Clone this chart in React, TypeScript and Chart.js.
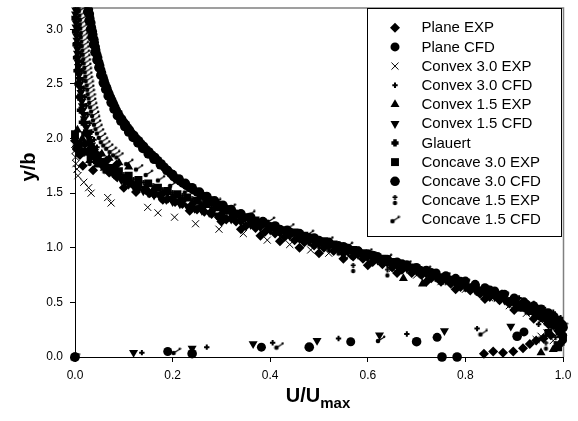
import React, { useEffect, useRef } from 'react';
import { Chart, registerables } from 'chart.js';
import { drawPoint } from 'chart.js/helpers';

Chart.register(...registerables);

// ---------------- data (U/Umax, y/b) ----------------
const xTicks = [0, 0.2, 0.4, 0.6, 0.8, 1.0];
const yTicks = [0, 0.5, 1.0, 1.5, 2.0, 2.5, 3.0];
const seriesLabels = [
  'Plane EXP', 'Plane CFD', 'Convex 3.0 EXP', 'Convex 3.0 CFD', 'Convex 1.5 EXP',
  'Convex 1.5 CFD', 'Glauert', 'Concave 3.0 EXP', 'Concave 3.0 CFD', 'Concave 1.5 EXP', 'Concave 1.5 CFD',
];

const planeExp = [
  [0.0, 1.98], [0.004, 1.9], [0.016, 1.75], [0.037, 1.71], [0.055, 1.76], [0.07, 1.69], [0.085, 1.65],
  [0.1, 1.62], [0.115, 1.59], [0.13, 1.56], [0.145, 1.53], [0.16, 1.5], [0.175, 1.48], [0.19, 1.45],
  [0.205, 1.42], [0.22, 1.4], [0.235, 1.37], [0.25, 1.35], [0.265, 1.33], [0.28, 1.31], [0.295, 1.28],
  [0.31, 1.26], [0.33, 1.24], [0.35, 1.2], [0.37, 1.18], [0.39, 1.15], [0.41, 1.13], [0.43, 1.1],
  [0.45, 1.07], [0.47, 1.05], [0.49, 1.02], [0.51, 1.0], [0.53, 0.97], [0.55, 0.95], [0.57, 0.92],
  [0.59, 0.9], [0.61, 0.87], [0.63, 0.85], [0.65, 0.82], [0.67, 0.8], [0.69, 0.77], [0.71, 0.75],
  [0.73, 0.72], [0.75, 0.69], [0.77, 0.67], [0.79, 0.64], [0.81, 0.61], [0.83, 0.58], [0.85, 0.55],
  [0.87, 0.52], [0.89, 0.49], [0.91, 0.46], [0.93, 0.42], [0.95, 0.38], [0.965, 0.34], [0.98, 0.29],
  [0.99, 0.24], [0.997, 0.19], [0.998, 0.14], [0.99, 0.1], [0.975, 0.2], [0.96, 0.17], [0.945, 0.15],
  [0.932, 0.12], [0.918, 0.08], [0.898, 0.05], [0.877, 0.04], [0.857, 0.05], [0.838, 0.03],
  [0.01, 1.85], [0.02, 1.95], [0.03, 1.9], [0.045, 1.85], [0.065, 1.8], [0.085, 1.76],
  [0.1, 1.55], [0.125, 1.51], [0.153, 1.5], [0.18, 1.44], [0.215, 1.43], [0.235, 1.34], [0.257, 1.37],
  [0.3, 1.24], [0.34, 1.17], [0.38, 1.11], [0.42, 1.06], [0.46, 1.0], [0.5, 0.95], [0.55, 0.9],
  [0.6, 0.84], [0.66, 0.77], [0.72, 0.69], [0.78, 0.62], [0.84, 0.53], [0.9, 0.43], [0.94, 0.35],
  [0.97, 0.3],
];

const planeCfd = [
  [0.026, 3.26], [0.027, 3.22], [0.028, 3.18], [0.03, 3.14], [0.031, 3.1], [0.033, 3.06], [0.034, 3.02],
  [0.036, 2.98], [0.037, 2.95], [0.039, 2.91], [0.04, 2.88], [0.042, 2.84], [0.043, 2.81], [0.045, 2.77],
  [0.047, 2.74], [0.049, 2.7], [0.051, 2.67], [0.053, 2.63], [0.055, 2.6], [0.058, 2.56], [0.06, 2.53],
  [0.062, 2.5], [0.065, 2.47], [0.067, 2.44], [0.07, 2.41], [0.073, 2.38], [0.076, 2.35], [0.079, 2.32],
  [0.082, 2.29], [0.085, 2.26], [0.089, 2.23], [0.092, 2.2], [0.096, 2.18], [0.1, 2.15], [0.104, 2.13],
  [0.108, 2.1], [0.112, 2.08], [0.116, 2.05], [0.121, 2.03], [0.126, 2.0], [0.131, 1.98], [0.136, 1.95],
  [0.141, 1.93], [0.146, 1.9], [0.152, 1.88], [0.158, 1.85], [0.164, 1.83], [0.17, 1.8], [0.177, 1.77],
  [0.183, 1.74], [0.19, 1.71], [0.196, 1.68], [0.202, 1.65], [0.208, 1.63], [0.215, 1.61], [0.221, 1.59],
  [0.228, 1.57], [0.235, 1.55], [0.242, 1.53], [0.25, 1.51], [0.257, 1.49], [0.265, 1.47], [0.272, 1.45],
  [0.28, 1.43], [0.288, 1.41], [0.296, 1.39], [0.305, 1.37], [0.313, 1.35], [0.322, 1.33], [0.331, 1.31],
  [0.34, 1.29], [0.36, 1.255], [0.38, 1.225], [0.4, 1.195], [0.42, 1.17], [0.44, 1.145], [0.46, 1.12],
  [0.48, 1.095], [0.5, 1.07], [0.52, 1.045], [0.54, 1.02], [0.56, 0.995], [0.58, 0.97], [0.6, 0.945],
  [0.62, 0.92], [0.64, 0.895], [0.66, 0.87], [0.68, 0.845], [0.7, 0.82], [0.72, 0.795], [0.74, 0.77],
  [0.76, 0.745], [0.78, 0.72], [0.8, 0.695], [0.82, 0.665], [0.84, 0.635], [0.86, 0.605], [0.88, 0.575],
  [0.9, 0.54], [0.92, 0.505], [0.94, 0.47], [0.955, 0.44], [0.97, 0.405], [0.982, 0.37], [0.992, 0.335],
  [0.998, 0.3], [1.0, 0.27], [0.92, 0.23], [0.742, 0.18], [0.565, 0.14], [0.382, 0.09], [0.19, 0.05],
  [0.0, 0.0],
];

const convex30Exp = [
  [0.0, 1.95], [0.0, 1.89], [0.001, 1.83], [0.002, 1.77], [0.004, 1.72], [0.006, 1.66], [0.018, 1.6],
  [0.028, 1.55], [0.033, 1.5], [0.067, 1.46], [0.074, 1.41], [0.149, 1.37], [0.17, 1.32], [0.204, 1.28],
  [0.247, 1.22], [0.295, 1.17], [0.345, 1.13], [0.394, 1.07], [0.44, 1.03], [0.483, 0.98], [0.52, 0.95],
  [0.56, 0.92], [0.6, 0.87], [0.65, 0.81], [0.7, 0.75], [0.75, 0.69], [0.8, 0.62], [0.85, 0.54],
  [0.89, 0.47], [0.925, 0.4], [0.955, 0.33], [0.975, 0.28], [0.99, 0.22], [0.967, 0.22], [0.955, 0.19],
  [0.945, 0.16], [0.98, 0.15],
];

const convex30Cfd = [
  [0.005, 3.26], [0.006, 3.18], [0.007, 3.1], [0.008, 3.02], [0.009, 2.94], [0.01, 2.86], [0.011, 2.78],
  [0.013, 2.7], [0.014, 2.62], [0.016, 2.54], [0.018, 2.46], [0.02, 2.38], [0.023, 2.3], [0.026, 2.22],
  [0.03, 2.14], [0.034, 2.06], [0.039, 1.99], [0.045, 1.92], [0.052, 1.86], [0.06, 1.8], [0.07, 1.74],
  [0.082, 1.69], [0.095, 1.64], [0.11, 1.6], [0.125, 1.56], [0.145, 1.52], [0.165, 1.48], [0.19, 1.44],
  [0.215, 1.4], [0.245, 1.36], [0.275, 1.32], [0.31, 1.28], [0.345, 1.24], [0.38, 1.2], [0.42, 1.15],
  [0.46, 1.1], [0.5, 1.05], [0.54, 1.0], [0.58, 0.95], [0.62, 0.9], [0.66, 0.85], [0.7, 0.8],
  [0.74, 0.75], [0.78, 0.69], [0.82, 0.64], [0.85, 0.6], [0.875, 0.59], [0.91, 0.54], [0.94, 0.49],
  [0.96, 0.45], [0.98, 0.41], [0.995, 0.36], [1.0, 0.31], [0.95, 0.3], [0.824, 0.26], [0.68, 0.21],
  [0.54, 0.17], [0.405, 0.13], [0.27, 0.09], [0.137, 0.04], [0.0, 0.0],
];

const convex15Exp = [
  [0.0, 2.02], [0.003, 1.93], [0.012, 1.86], [0.03, 1.8], [0.045, 1.76], [0.06, 1.73], [0.075, 1.7],
  [0.09, 1.66], [0.11, 1.62], [0.125, 1.59], [0.145, 1.56], [0.16, 1.53], [0.18, 1.5], [0.2, 1.47],
  [0.22, 1.44], [0.24, 1.41], [0.26, 1.38], [0.28, 1.35], [0.3, 1.32], [0.32, 1.29], [0.34, 1.26],
  [0.36, 1.23], [0.38, 1.2], [0.4, 1.18], [0.42, 1.15], [0.44, 1.12], [0.46, 1.1], [0.48, 1.07],
  [0.5, 1.04], [0.52, 1.02], [0.54, 0.99], [0.56, 0.97], [0.58, 0.94], [0.6, 0.92], [0.62, 0.89],
  [0.64, 0.86], [0.66, 0.84], [0.68, 0.82], [0.7, 0.79], [0.72, 0.77], [0.74, 0.74], [0.76, 0.71],
  [0.78, 0.68], [0.8, 0.66], [0.82, 0.63], [0.84, 0.6], [0.86, 0.56], [0.88, 0.53], [0.9, 0.5],
  [0.92, 0.46], [0.94, 0.41], [0.955, 0.38], [0.97, 0.34], [0.985, 0.28], [0.995, 0.25], [1.0, 0.22],
  [0.673, 0.72], [0.712, 0.67], [0.995, 0.13], [0.98, 0.07], [0.955, 0.04],
  [0.005, 2.08], [0.015, 2.0], [0.025, 1.95], [0.04, 1.9], [0.055, 1.86], [0.07, 1.82], [0.09, 1.78],
  [0.11, 1.74],
];

const convex15Cfd = [
  [0.0, 3.26], [0.0, 3.22], [0.001, 3.18], [0.001, 3.14], [0.001, 3.1], [0.002, 3.06], [0.002, 3.02],
  [0.003, 2.98], [0.003, 2.94], [0.004, 2.9], [0.004, 2.86], [0.005, 2.82], [0.005, 2.78], [0.006, 2.74],
  [0.006, 2.7], [0.007, 2.66], [0.008, 2.62], [0.008, 2.58], [0.009, 2.54], [0.01, 2.5], [0.011, 2.46],
  [0.012, 2.42], [0.013, 2.38], [0.014, 2.34], [0.015, 2.3], [0.016, 2.26], [0.018, 2.22], [0.019, 2.18],
  [0.021, 2.14], [0.023, 2.1], [0.025, 2.06], [0.027, 2.03], [0.029, 2.0], [0.032, 1.97], [0.034, 1.94],
  [0.037, 1.91], [0.04, 1.88], [0.044, 1.85], [0.048, 1.82], [0.052, 1.795], [0.057, 1.77], [0.062, 1.745],
  [0.068, 1.72], [0.074, 1.695], [0.08, 1.67], [0.087, 1.645], [0.095, 1.62], [0.103, 1.6], [0.11, 1.58],
  [0.12, 1.56], [0.13, 1.54], [0.14, 1.52], [0.15, 1.5], [0.162, 1.48], [0.175, 1.46], [0.187, 1.44],
  [0.2, 1.42], [0.215, 1.4], [0.23, 1.38], [0.245, 1.36], [0.26, 1.34], [0.275, 1.32], [0.29, 1.3],
  [0.305, 1.28], [0.32, 1.26], [0.34, 1.235], [0.36, 1.21], [0.38, 1.185], [0.4, 1.16], [0.42, 1.135],
  [0.44, 1.11], [0.46, 1.085], [0.48, 1.06], [0.5, 1.035], [0.52, 1.01], [0.54, 0.985], [0.56, 0.96],
  [0.58, 0.935], [0.6, 0.91], [0.62, 0.885], [0.64, 0.86], [0.66, 0.835], [0.68, 0.81], [0.7, 0.785],
  [0.72, 0.76], [0.74, 0.73], [0.76, 0.7], [0.78, 0.67], [0.8, 0.64], [0.82, 0.61], [0.84, 0.58],
  [0.86, 0.55], [0.88, 0.52], [0.9, 0.49], [0.92, 0.455], [0.94, 0.42], [0.955, 0.39], [0.97, 0.36],
  [0.985, 0.33], [0.995, 0.3], [1.0, 0.27], [0.893, 0.28], [0.757, 0.24], [0.624, 0.2], [0.496, 0.15],
  [0.365, 0.12], [0.24, 0.08], [0.12, 0.04], [0.0, 0.0],
];

const glauert = [
  [0.0, 3.22], [0.0, 3.1], [0.001, 2.98], [0.002, 2.86], [0.003, 2.74], [0.004, 2.62], [0.006, 2.5],
  [0.008, 2.38], [0.011, 2.26], [0.015, 2.15], [0.02, 2.05], [0.028, 1.96], [0.04, 1.87], [0.055, 1.79],
  [0.075, 1.71], [0.1, 1.64], [0.13, 1.57], [0.165, 1.5], [0.2, 1.44], [0.24, 1.38], [0.28, 1.32],
  [0.32, 1.27], [0.37, 1.2], [0.42, 1.14], [0.47, 1.08], [0.52, 1.02], [0.57, 0.96], [0.62, 0.9],
  [0.67, 0.84], [0.72, 0.77], [0.77, 0.71], [0.82, 0.64], [0.86, 0.57], [0.9, 0.5], [0.93, 0.44],
  [0.96, 0.37], [0.98, 0.31], [0.995, 0.25], [1.0, 0.19],
];

const concave30Exp = [
  [0.0, 2.04], [0.008, 1.95], [0.02, 1.88], [0.032, 1.84], [0.045, 1.8], [0.06, 1.76], [0.075, 1.73],
  [0.09, 1.7], [0.11, 1.66], [0.13, 1.62], [0.15, 1.59], [0.17, 1.55], [0.19, 1.52], [0.21, 1.49],
  [0.23, 1.46], [0.25, 1.43], [0.27, 1.4], [0.29, 1.37], [0.31, 1.34], [0.33, 1.31], [0.35, 1.28],
  [0.37, 1.25], [0.39, 1.22], [0.41, 1.19], [0.43, 1.16], [0.45, 1.14], [0.47, 1.11], [0.49, 1.08],
  [0.51, 1.06], [0.53, 1.03], [0.55, 1.0], [0.57, 0.98], [0.59, 0.95], [0.61, 0.93], [0.63, 0.9],
  [0.65, 0.87], [0.67, 0.84], [0.69, 0.82], [0.71, 0.79], [0.73, 0.76], [0.75, 0.73], [0.77, 0.7],
  [0.79, 0.67], [0.81, 0.64], [0.83, 0.61], [0.85, 0.58], [0.87, 0.55], [0.89, 0.51], [0.905, 0.48],
  [0.92, 0.45], [0.935, 0.42], [0.95, 0.39], [0.96, 0.36], [0.97, 0.33], [0.98, 0.3], [0.993, 0.24],
  [1.0, 0.18], [0.99, 0.09], [0.97, 0.22],
];

const concave30Cfd = [
  [0.024, 3.24], [0.026, 3.16], [0.029, 3.08], [0.032, 3.0], [0.035, 2.93], [0.038, 2.86], [0.041, 2.79],
  [0.045, 2.72], [0.049, 2.65], [0.053, 2.58], [0.058, 2.51], [0.063, 2.45], [0.068, 2.39], [0.074, 2.33],
  [0.08, 2.27], [0.087, 2.21], [0.094, 2.16], [0.102, 2.11], [0.11, 2.06], [0.119, 2.01], [0.129, 1.96],
  [0.139, 1.91], [0.15, 1.86], [0.162, 1.81], [0.175, 1.76], [0.188, 1.71], [0.2, 1.67], [0.213, 1.63],
  [0.226, 1.59], [0.24, 1.55], [0.255, 1.51], [0.27, 1.47], [0.286, 1.43], [0.303, 1.39], [0.32, 1.35],
  [0.34, 1.31], [0.36, 1.28], [0.385, 1.24], [0.41, 1.2], [0.435, 1.16], [0.46, 1.13], [0.49, 1.09],
  [0.52, 1.05], [0.55, 1.01], [0.58, 0.97], [0.61, 0.93], [0.64, 0.89], [0.67, 0.85], [0.7, 0.81],
  [0.73, 0.77], [0.76, 0.73], [0.79, 0.69], [0.82, 0.65], [0.85, 0.61], [0.875, 0.57], [0.9, 0.52],
  [0.925, 0.48], [0.945, 0.44], [0.965, 0.4], [0.98, 0.36], [0.992, 0.32], [1.0, 0.27], [0.906, 0.19],
  [0.7, 0.14], [0.48, 0.09], [0.24, 0.03], [0.783, 0.0], [0.752, 0.0], [0.0, 0.0],
];

const concave15Exp = [
  [0.0, 1.96], [0.01, 1.87], [0.03, 1.79], [0.06, 1.72], [0.08, 1.68], [0.1, 1.64], [0.12, 1.6],
  [0.14, 1.57], [0.16, 1.54], [0.18, 1.51], [0.2, 1.48], [0.22, 1.45], [0.24, 1.42], [0.26, 1.39],
  [0.28, 1.36], [0.3, 1.33], [0.32, 1.3], [0.34, 1.27], [0.36, 1.24], [0.38, 1.21], [0.4, 1.18],
  [0.42, 1.15], [0.44, 1.12], [0.46, 1.09], [0.48, 1.06], [0.5, 1.03], [0.52, 1.0], [0.54, 0.97],
  [0.57, 0.81], [0.64, 0.77], [0.61, 0.92], [0.68, 0.83], [0.71, 0.78], [0.74, 0.73], [0.77, 0.69],
  [0.8, 0.64], [0.825, 0.6], [0.85, 0.57], [0.87, 0.53], [0.89, 0.5], [0.91, 0.46], [0.925, 0.43],
  [0.94, 0.4], [0.955, 0.36], [0.965, 0.33], [0.975, 0.3], [0.99, 0.24], [0.985, 0.15], [0.965, 0.1],
];

const concave15Cfd = [
  [0.012, 3.26], [0.013, 3.22], [0.013, 3.18], [0.014, 3.14], [0.015, 3.1], [0.015, 3.06], [0.016, 3.02],
  [0.017, 2.98], [0.017, 2.94], [0.018, 2.9], [0.019, 2.86], [0.02, 2.82], [0.021, 2.78], [0.022, 2.74],
  [0.023, 2.7], [0.024, 2.66], [0.025, 2.62], [0.026, 2.58], [0.027, 2.54], [0.029, 2.5], [0.03, 2.46],
  [0.031, 2.42], [0.033, 2.38], [0.034, 2.34], [0.036, 2.3], [0.038, 2.26], [0.04, 2.22], [0.042, 2.18],
  [0.044, 2.14], [0.047, 2.1], [0.05, 2.06], [0.054, 2.02], [0.058, 1.98], [0.063, 1.95], [0.069, 1.92],
  [0.076, 1.89], [0.083, 1.86], [0.09, 1.84], [0.11, 1.78], [0.13, 1.73], [0.15, 1.68], [0.175, 1.63],
  [0.2, 1.58], [0.23, 1.52], [0.26, 1.47], [0.29, 1.42], [0.32, 1.37], [0.36, 1.31], [0.4, 1.25],
  [0.44, 1.19], [0.48, 1.13], [0.52, 1.07], [0.56, 1.02], [0.6, 0.96], [0.64, 0.91], [0.68, 0.85],
  [0.72, 0.8], [0.76, 0.74], [0.8, 0.68], [0.84, 0.62], [0.88, 0.56], [0.91, 0.5], [0.94, 0.44],
  [0.965, 0.38], [0.985, 0.33], [1.0, 0.28], [0.836, 0.22], [0.626, 0.16], [0.418, 0.1], [0.207, 0.05],
  [0.0, 0.0],
];

const seriesData = [
  planeExp, planeCfd, convex30Exp, convex30Cfd, convex15Exp,
  convex15Cfd, glauert, concave30Exp, concave30Cfd, concave15Exp, concave15Cfd,
];

// ---------------- styles ----------------
const FONT = '"Liberation Sans", Arial, sans-serif';

function makeExpGlyph(): HTMLCanvasElement {
  const c = document.createElement('canvas');
  c.width = 7; c.height = 11;
  const g = c.getContext('2d')!;
  g.fillStyle = '#000';
  g.fillRect(2.5, 0, 2, 5);
  g.fillRect(1, 1.5, 5, 1.5);
  g.beginPath(); g.arc(3.5, 8, 2.2, 0, Math.PI * 2); g.fill();
  return c;
}
function makeCfdGlyph(): HTMLCanvasElement {
  const c = document.createElement('canvas');
  c.width = 11; c.height = 9;
  const g = c.getContext('2d')!;
  g.fillStyle = '#000'; g.strokeStyle = '#000';
  g.beginPath(); g.arc(3, 6, 2.3, 0, Math.PI * 2); g.fill();
  g.lineWidth = 1.2;
  g.beginPath(); g.moveTo(3, 6); g.lineTo(9, 2.2); g.stroke();
  g.beginPath(); g.arc(9.2, 1.8, 1.2, 0, Math.PI * 2); g.fill();
  return c;
}

function buildStyles() {
  return [
    { pointStyle: 'rectRot', radius: 5, borderWidth: 0, rotation: 0 },
    { pointStyle: 'circle', radius: 4.5, borderWidth: 0, rotation: 0 },
    { pointStyle: 'crossRot', radius: 5, borderWidth: 1, rotation: 0 },
    { pointStyle: 'cross', radius: 2.7, borderWidth: 2, rotation: 0 },
    { pointStyle: 'triangle', radius: 5.2, borderWidth: 0, rotation: 0 },
    { pointStyle: 'triangle', radius: 5.2, borderWidth: 0, rotation: 180 },
    { pointStyle: 'cross', radius: 3.6, borderWidth: 3.5, rotation: 0 },
    { pointStyle: 'rect', radius: 5.6, borderWidth: 0, rotation: 0 },
    { pointStyle: 'circle', radius: 4.8, borderWidth: 0, rotation: 0 },
    { pointStyle: makeExpGlyph() as any, radius: 4, borderWidth: 0, rotation: 0 },
    { pointStyle: makeCfdGlyph() as any, radius: 4, borderWidth: 0, rotation: 0 },
  ];
}

export default function App() {
  const ref = useRef<HTMLCanvasElement>(null);

  useEffect(() => {
    document.body.style.margin = '0';
    const canvas = ref.current!;
    const styles = buildStyles();

    const framePlugin = {
      id: 'frame',
      beforeDatasetsDraw(chart: any) {
        const { ctx, chartArea: a } = chart;
        ctx.save();
        ctx.strokeStyle = '#808080';
        ctx.lineWidth = 1.5;
        ctx.beginPath();
        ctx.moveTo(a.left, a.top + 0.5);
        ctx.lineTo(a.right + 0.5, a.top + 0.5);
        ctx.lineTo(a.right + 0.5, a.bottom);
        ctx.stroke();
        ctx.restore();
      },
    };

    const overlayPlugin = {
      id: 'overlay',
      afterDraw(chart: any) {
        const { ctx } = chart;
        ctx.save();
        // legend box
        const lx = 367, ly = 8, lw = 194, lh = 228;
        ctx.fillStyle = '#fff';
        ctx.fillRect(lx, ly, lw, lh);
        ctx.strokeStyle = '#000';
        ctx.lineWidth = 1;
        ctx.strokeRect(lx + 0.5, ly + 0.5, lw, lh);
        ctx.font = `15px ${FONT}`;
        ctx.textBaseline = 'middle';
        ctx.textAlign = 'left';
        seriesLabels.forEach((label, i) => {
          const y = 27.7 + 19.2 * i;
          ctx.fillStyle = '#000';
          ctx.strokeStyle = '#000';
          ctx.lineWidth = styles[i].borderWidth;
          drawPoint(ctx, styles[i] as any, 395, y);
          ctx.fillStyle = '#000';
          ctx.fillText(label, 421.5, y + 0.5);
        });
        // axis titles
        ctx.fillStyle = '#000';
        ctx.textBaseline = 'alphabetic';
        ctx.font = `bold 20px ${FONT}`;
        const main = 'U/U';
        const mw = ctx.measureText(main).width;
        ctx.font = `bold 15px ${FONT}`;
        const sw = ctx.measureText('max').width;
        const startX = 318 - (mw + sw) / 2;
        ctx.font = `bold 20px ${FONT}`;
        ctx.fillText(main, startX, 402);
        ctx.font = `bold 15px ${FONT}`;
        ctx.fillText('max', startX + mw, 408);
        ctx.save();
        ctx.translate(35, 167);
        ctx.rotate(-Math.PI / 2);
        ctx.font = `bold 20px ${FONT}`;
        ctx.textAlign = 'center';
        ctx.fillText('y/b', 0, 0);
        ctx.restore();
        ctx.restore();
      },
    };

    const datasets = seriesData.map((d, i) => ({
      label: seriesLabels[i],
      data: d.map(([u, y]) => ({ x: u, y })),
      showLine: false,
      pointStyle: styles[i].pointStyle,
      pointRadius: styles[i].radius,
      pointRotation: styles[i].rotation,
      pointBorderWidth: styles[i].borderWidth,
      pointBackgroundColor: '#000',
      pointBorderColor: '#000',
      backgroundColor: '#000',
      borderColor: '#000',
      clip: { left: 10, top: 0, right: 10, bottom: 10 },
    }));

    const tickFont = { family: FONT, size: 12 };

    const chart = new Chart(canvas, {
      type: 'scatter',
      data: { datasets: datasets as any },
      options: {
        responsive: false,
        animation: false,
        devicePixelRatio: 1,
        events: [],
        layout: { padding: { left: 0, right: 15, top: 6, bottom: 0 } },
        plugins: { legend: { display: false }, tooltip: { enabled: false } },
        scales: {
          x: {
            type: 'linear',
            min: 0,
            max: 1,
            ticks: {
              font: tickFont,
              color: '#000',
              padding: 6,
              maxRotation: 0,
              callback: (v: any) => Number(v).toFixed(1),
            },
            grid: { drawOnChartArea: false, drawTicks: true, tickLength: 5, tickColor: '#000' },
            border: { color: '#000', width: 1 },
            afterBuildTicks: (s: any) => { s.ticks = xTicks.map((v) => ({ value: v })); },
            afterFit: (s: any) => {
              s.height = 64;
              s.paddingLeft = 0; s.paddingRight = 0; s.paddingTop = 0; s.paddingBottom = 0;
            },
          },
          y: {
            type: 'linear',
            min: 0,
            max: 3.2,
            ticks: {
              font: tickFont,
              color: '#000',
              padding: 7,
              callback: (v: any) => Number(v).toFixed(1),
            },
            grid: { drawOnChartArea: false, drawTicks: true, tickLength: 5, tickColor: '#000' },
            border: { color: '#000', width: 1 },
            afterBuildTicks: (s: any) => { s.ticks = yTicks.map((v) => ({ value: v })); },
            afterFit: (s: any) => {
              s.width = 75;
              s.paddingLeft = 0; s.paddingRight = 0; s.paddingTop = 0; s.paddingBottom = 0;
            },
          },
        },
      },
      plugins: [framePlugin, overlayPlugin],
    });
    return () => chart.destroy();
  }, []);

  return (
    <canvas
      ref={ref}
      width={578}
      height={421}
      style={{ display: 'block', width: 578, height: 421 }}
    />
  );
}
